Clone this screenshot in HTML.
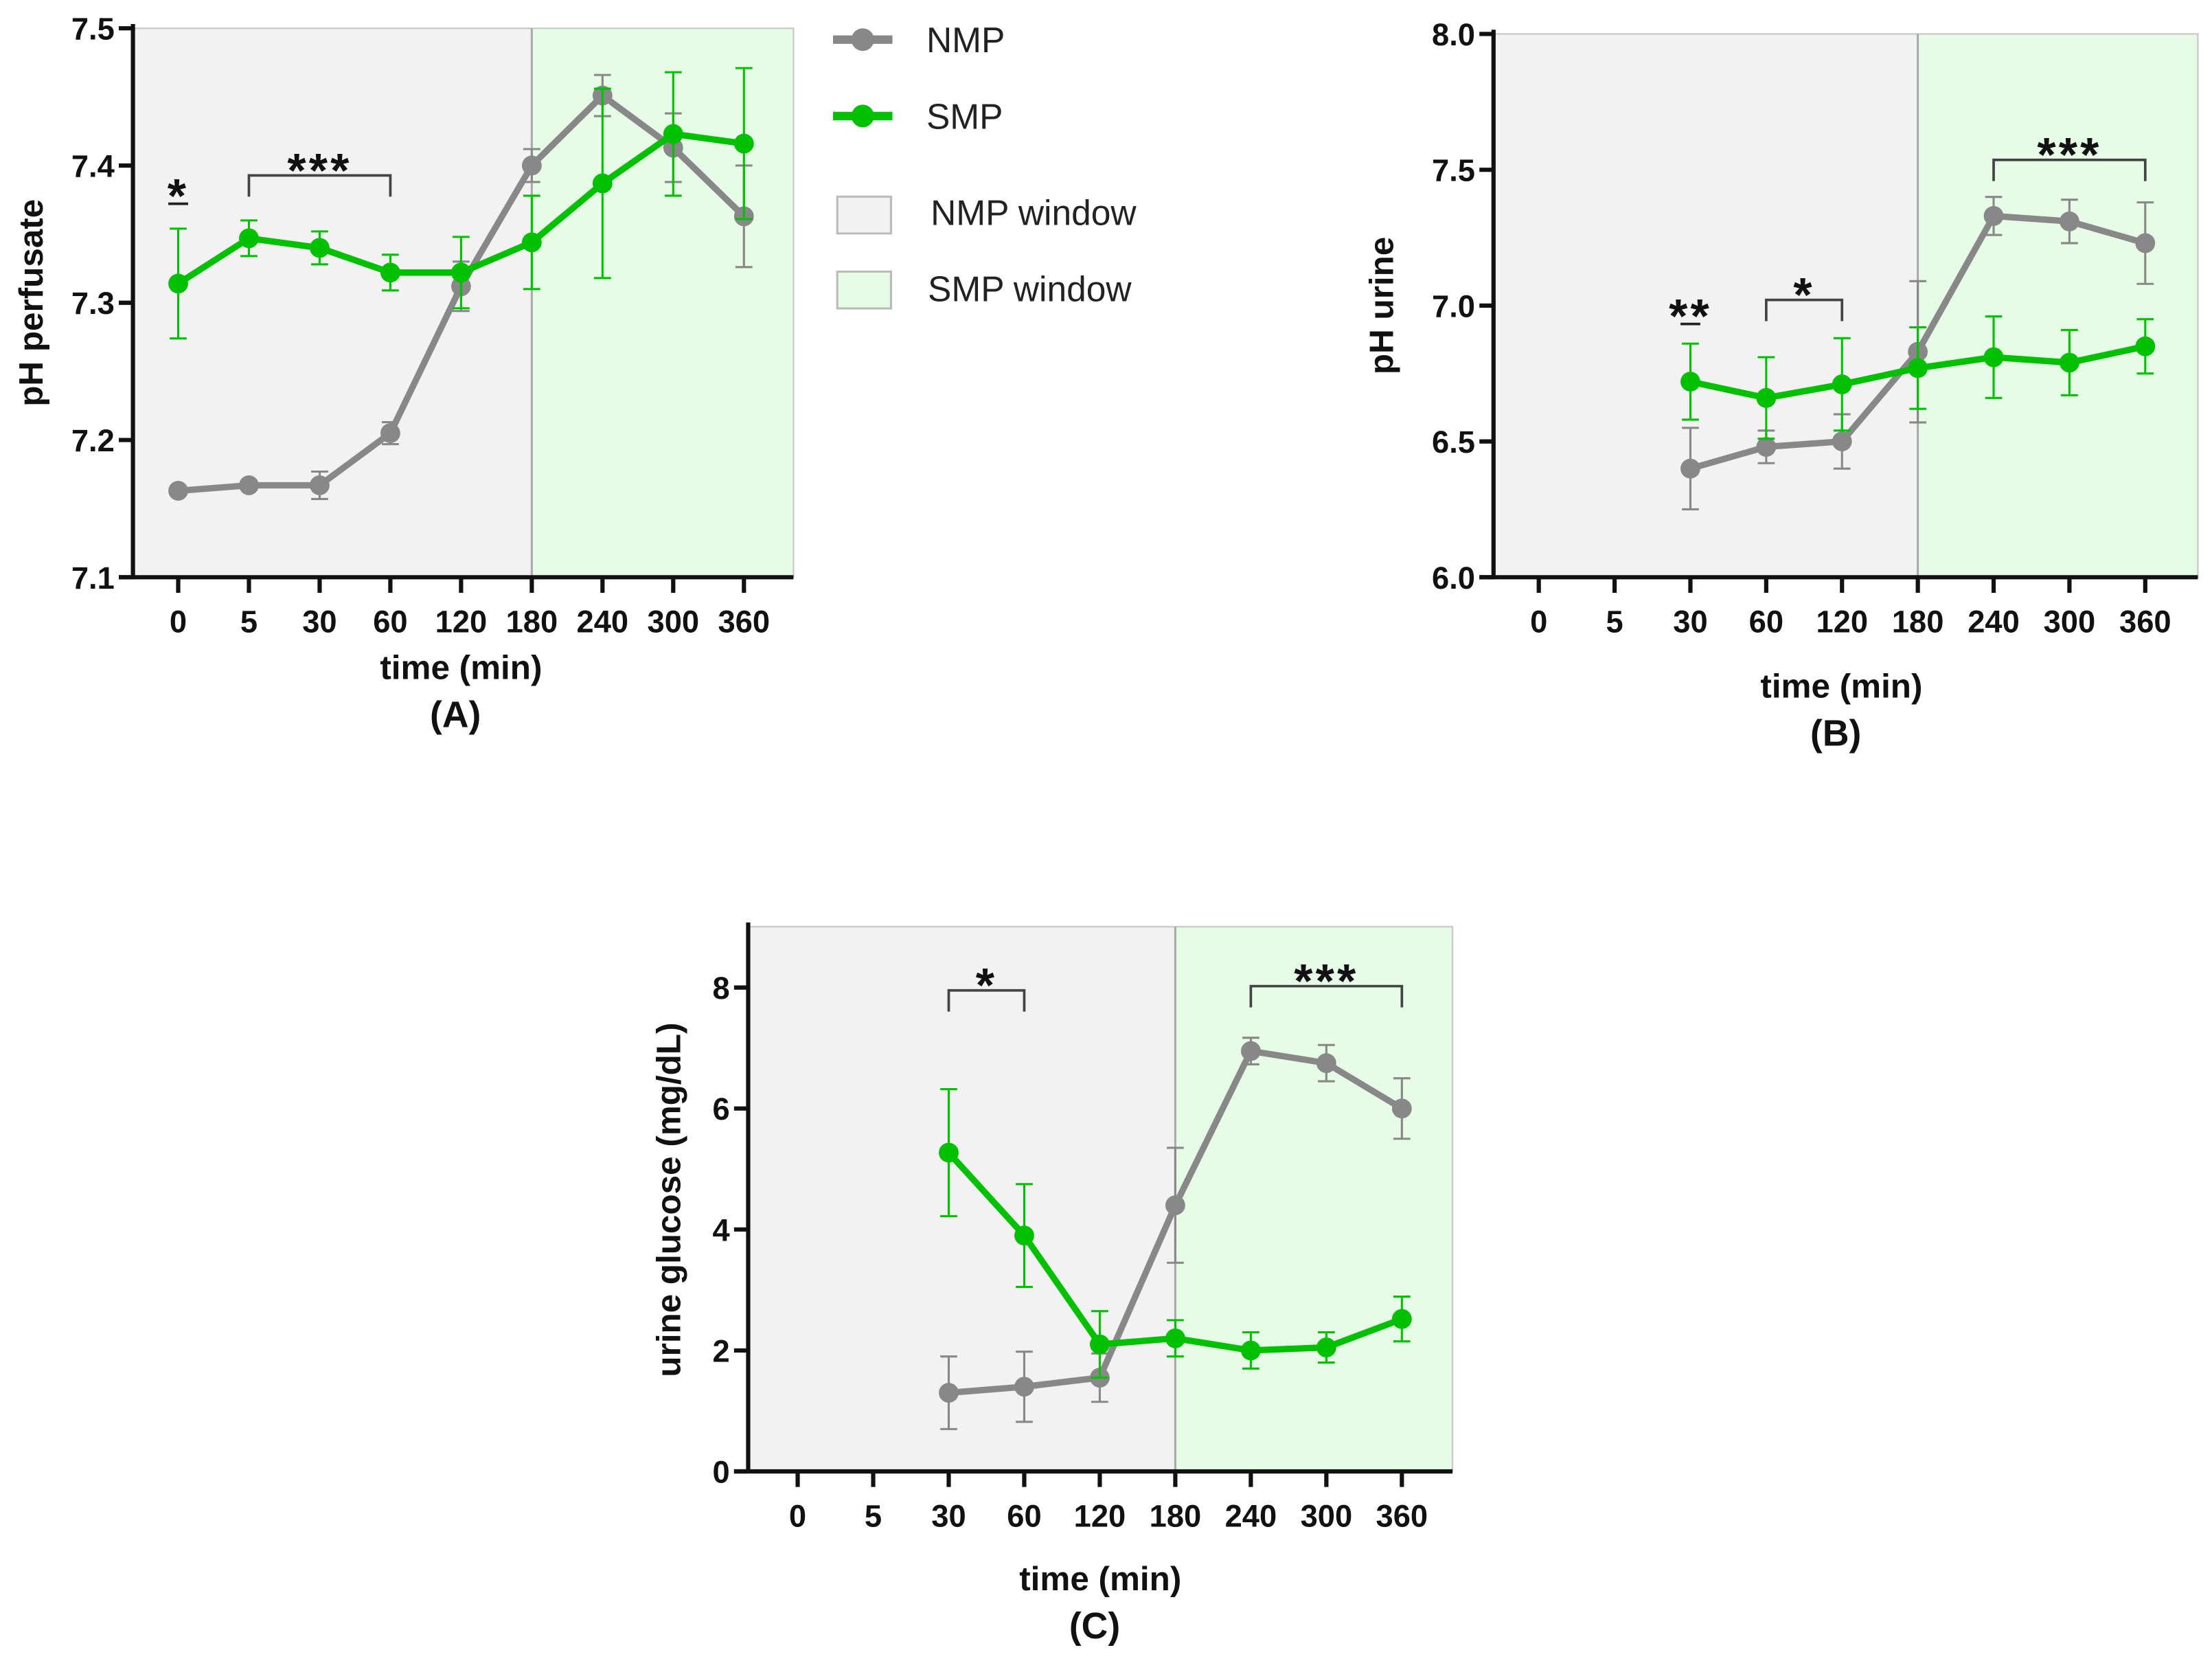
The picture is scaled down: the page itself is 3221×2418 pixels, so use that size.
<!DOCTYPE html>
<html><head><meta charset="utf-8"><style>
html,body{margin:0;padding:0;background:#fff;}
svg{display:block;}
text{font-family:"Liberation Sans",Arial,sans-serif;}
</style></head><body>
<svg id="fig" width="3221" height="2418" viewBox="0 0 1564 1174" preserveAspectRatio="none" xmlns="http://www.w3.org/2000/svg">
<g id="legend">
  <g>
    <line x1="589" y1="28" x2="631" y2="28" stroke="#888" stroke-width="6"/>
    <circle cx="610" cy="28" r="8" fill="#888"/>
    <text x="655" y="37" font-size="25" fill="#222">NMP</text>
  </g>
  <g>
    <line x1="589" y1="82" x2="631" y2="82" stroke="#00c000" stroke-width="6"/>
    <circle cx="610" cy="82" r="8" fill="#00c000"/>
    <text x="655" y="91" font-size="25" fill="#222">SMP</text>
  </g>
  <g>
    <rect x="592" y="139" width="38" height="26" fill="#f2f2f2" stroke="#bbb" stroke-width="1.5"/>
    <text x="658" y="159" font-size="25" fill="#222">NMP window</text>
  </g>
  <g>
    <rect x="592" y="192" width="38" height="26" fill="#e6fce6" stroke="#bbb" stroke-width="1.5"/>
    <text x="656" y="213" font-size="25" fill="#222">SMP window</text>
  </g>
</g>
</svg>
<script>
// ---- Panel A data ----
const catsA = ["0","5","30","60","120","180","240","300","360"];
const nmpA = [7.163,7.167,7.167,7.205,7.312,7.400,7.451,7.413,7.363];
const nmpErrA = [0.002,0.003,0.010,0.008,0.018,0.012,0.015,0.025,0.037];
const smpA = [7.314,7.347,7.340,7.322,7.322,7.344,7.387,7.423,7.416];
const smpErrA = [0.040,0.013,0.012,0.013,0.026,0.034,0.069,0.045,0.055];
const yTicksA = [7.1,7.2,7.3,7.4,7.5];
// ---- Panel B data ----
const catsB = ["0","5","30","60","120","180","240","300","360"];
const nmpB = [null,null,6.40,6.48,6.50,6.83,7.33,7.31,7.23];
const nmpErrB = [0,0,0.15,0.06,0.10,0.26,0.07,0.08,0.15];
const smpB = [null,null,6.72,6.66,6.71,6.77,6.81,6.79,6.85];
const smpErrB = [0,0,0.14,0.15,0.17,0.15,0.15,0.12,0.10];
const yTicksB = [6.0,6.5,7.0,7.5,8.0];
// ---- Panel C data ----
const catsC = ["0","5","30","60","120","180","240","300","360"];
const nmpC = [null,null,1.3,1.4,1.55,4.4,6.95,6.75,6.0];
const nmpErrC = [0,0,0.6,0.58,0.4,0.95,0.22,0.3,0.5];
const smpC = [null,null,5.27,3.9,2.1,2.2,2.0,2.05,2.52];
const smpErrC = [0,0,1.05,0.85,0.55,0.3,0.3,0.25,0.37];
const yTicksC = [0,2,4,6,8];

const NS="http://www.w3.org/2000/svg";
const svg=document.getElementById('fig');
function mk(tag,attrs,parent){const e=document.createElementNS(NS,tag);for(const k in attrs)e.setAttribute(k,attrs[k]);(parent||svg).appendChild(e);return e;}

function panel(cfg){
  const g=mk('g',{});
  
  
  const {L,R,T,B,x0,dx,ymin,ymax,ytop,divIdx}=cfg;
  const xs=i=>x0+i*dx;
  const ys=v=>B-(v-ymin)/(ymax-ymin)*(B-ytop);
  const divX=xs(divIdx);
  const bg1=mk('rect',{x:L,y:T,width:divX-L,height:B-T,fill:'#f2f2f2'},g);
  
  
  const bg2=mk('rect',{x:divX,y:T,width:R-divX,height:B-T,fill:'#e6fce6'},g);
  
  
  mk('rect',{x:L,y:T,width:R-L,height:B-T,fill:'none',stroke:'#ccc','stroke-width':1.2},g);
  mk('line',{x1:divX,y1:T,x2:divX,y2:B,stroke:'#aaa','stroke-width':1.5},g);
  [[cfg.nmp,cfg.nmpErr,'#888','nmp'],[cfg.smp,cfg.smpErr,'#00c000','smp']].forEach(([vals,errs,col,nm])=>{
    const sg=mk('g',{},g);
    
    
    let pts=[];
    vals.forEach((v,i)=>{if(v===null)return;pts.push(xs(i)+','+ys(v));});
    mk('polyline',{points:pts.join(' '),fill:'none',stroke:col,'stroke-width':4.5,'stroke-linejoin':'round'},sg);
    vals.forEach((v,i)=>{if(v===null)return;
      const x=xs(i),e=errs[i];
      if(e>0){
        mk('line',{x1:x,y1:ys(v+e),x2:x,y2:ys(v-e),stroke:col,'stroke-width':1.5},sg);
        mk('line',{x1:x-6,y1:ys(v+e),x2:x+6,y2:ys(v+e),stroke:col,'stroke-width':1.5},sg);
        mk('line',{x1:x-6,y1:ys(v-e),x2:x+6,y2:ys(v-e),stroke:col,'stroke-width':1.5},sg);
      }
      const c=mk('circle',{cx:x,cy:ys(v),r:7,fill:col},sg);
      
      
    });
  });
  mk('line',{x1:L,y1:T-3,x2:L,y2:B,stroke:'#111','stroke-width':3},g);
  mk('line',{x1:L-10,y1:B,x2:R,y2:B,stroke:'#111','stroke-width':3},g);
  cfg.yTicks.forEach(t=>{
    mk('line',{x1:L-10,y1:ys(t),x2:L,y2:ys(t),stroke:'#111','stroke-width':3},g);
    const tx=mk('text',{x:L-13,y:ys(t)+8,'font-size':22,'font-weight':'bold','text-anchor':'end',fill:'#111'},g);
    tx.textContent=cfg.yFmt(t);
    
    
  });
  cfg.cats.forEach((c,i)=>{
    mk('line',{x1:xs(i),y1:B,x2:xs(i),y2:B+11,stroke:'#111','stroke-width':3},g);
    const tx=mk('text',{x:xs(i),y:B+39,'font-size':22,'font-weight':'bold','text-anchor':'middle',fill:'#111'},g);
    tx.textContent=c;
    
    
  });
  const xt=mk('text',{x:cfg.xtX,y:cfg.xtY,'font-size':24,'font-weight':'bold','text-anchor':'middle',fill:'#111'},g);
  xt.textContent='time (min)';
  
  
  const pl=mk('text',{x:cfg.xtX-4,y:cfg.xtY+34,'font-size':26,'font-weight':'bold','text-anchor':'middle',fill:'#111'},g);
  pl.textContent=cfg.label;
  
  
  const yt=mk('text',{x:0,y:0,'font-size':24,'font-weight':'bold','text-anchor':'middle',fill:'#111',transform:`translate(${cfg.ytX},${cfg.ytY}) rotate(-90)`},g);
  yt.textContent=cfg.ytitle;
  
  
  cfg.sig.forEach(s=>{
    const sg=mk('g',{},g);
    
    
    if(s.b===s.a){
      mk('line',{x1:xs(s.a)-7,y1:s.y,x2:xs(s.a)+7,y2:s.y,stroke:'#222','stroke-width':1.8},sg);
    } else {
      mk('polyline',{points:`${xs(s.a)},${s.y+15} ${xs(s.a)},${s.y} ${xs(s.b)},${s.y} ${xs(s.b)},${s.y+15}`,fill:'none',stroke:'#444','stroke-width':1.8},sg);
    }
    const t=mk('text',{x:(xs(s.a)+xs(s.b))/2,y:s.y+(s.b===s.a?6:8),'font-size':34,'font-weight':'bold','text-anchor':'middle',fill:'#111','letter-spacing':'2'},sg);
    t.textContent=s.t;
  });
}

panel({name:'panel-a-ph-perfusate',L:94,R:561,T:20,B:408,x0:126,dx:50,ymin:7.1,ymax:7.5,ytop:20,divIdx:5,
  cats:catsA,nmp:nmpA,nmpErr:nmpErrA,smp:smpA,smpErr:smpErrA,yTicks:yTicksA,yFmt:t=>t.toFixed(1),
  xtX:326,xtY:480,label:'(A)',ytitle:'pH perfusate',ytX:30,ytY:214,
  sig:[{a:0,b:0,y:144,t:'*'},{a:1,b:3,y:124,t:'***'}]});
panel({name:'panel-b-ph-urine',L:1056,R:1554,T:24,B:408,x0:1088,dx:53.6,ymin:6.0,ymax:8.0,ytop:24,divIdx:5,
  cats:catsB,nmp:nmpB,nmpErr:nmpErrB,smp:smpB,smpErr:smpErrB,yTicks:yTicksB,yFmt:t=>t.toFixed(1),
  xtX:1302,xtY:493,label:'(B)',ytitle:'pH urine',ytX:985,ytY:216,
  sig:[{a:2,b:2,y:229,t:'**'},{a:3,b:4,y:212,t:'*'},{a:6,b:8,y:113,t:'***'}]});
panel({name:'panel-c-urine-glucose',L:529,R:1027,T:655,B:1040,x0:564,dx:53.4,ymin:0,ymax:8,ytop:698,divIdx:5,
  cats:catsC,nmp:nmpC,nmpErr:nmpErrC,smp:smpC,smpErr:smpErrC,yTicks:yTicksC,yFmt:t=>String(t),
  xtX:778,xtY:1124,label:'(C)',ytitle:'urine glucose (mg/dL)',ytX:481,ytY:848,
  sig:[{a:2,b:3,y:700,t:'*'},{a:6,b:8,y:697,t:'***'}]});
</script>
</body></html>
